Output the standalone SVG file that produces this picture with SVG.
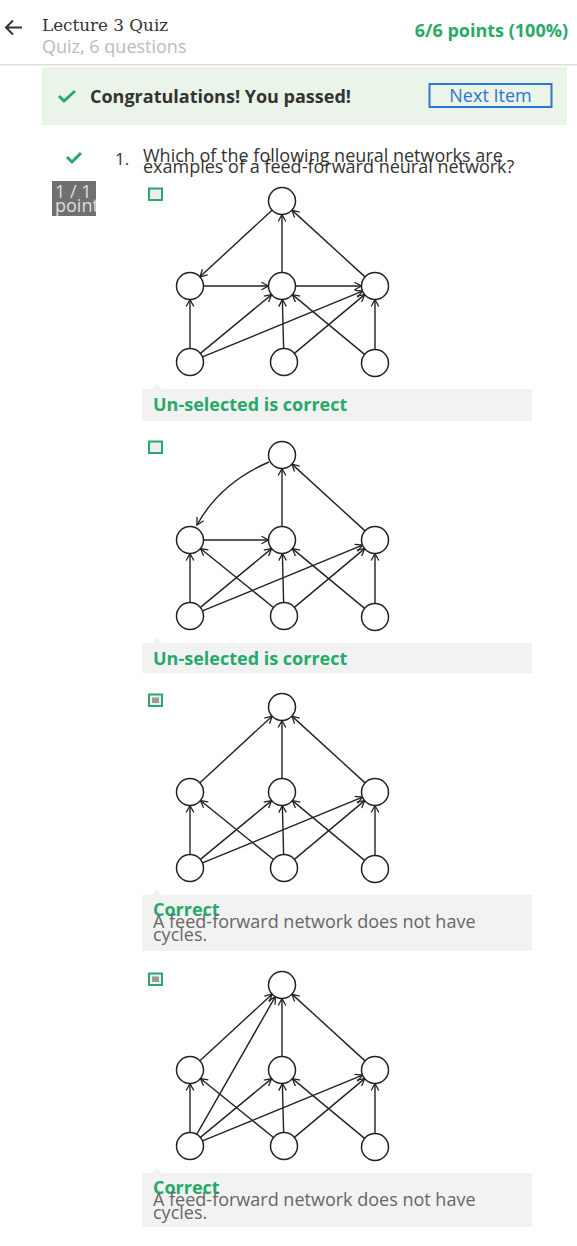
<svg xmlns="http://www.w3.org/2000/svg" width="577" height="1246" viewBox="0 0 577 1246">
<style>
.sans{font-family:"Open Sans","Liberation Sans",sans-serif}
.node{fill:#fff;stroke:#222;stroke-width:1.5}
.edge{fill:none;stroke:#222;stroke-width:1.4;marker-end:url(#arr)}
.fb{fill:#f2f2f2}
.ok{fill:#27a96b;font-weight:bold;font-size:18px}
.expl{fill:#666;font-size:18px}
.cb{fill:#eee;stroke:#27a96b;stroke-width:2}
.tick{fill:none;stroke:#27a96b;stroke-width:3}
</style>
<defs>
<marker id="arr" markerUnits="userSpaceOnUse" markerWidth="12" markerHeight="12" viewBox="-9 -6 12 12" refX="0" refY="0" orient="auto">
<path d="M-7,-3.8 L0,0 L-7,3.8" fill="none" stroke="#222" stroke-width="1.3"/>
</marker>
<clipPath id="ptclip"><rect x="52" y="181" width="44" height="35"/></clipPath>
</defs>
<rect width="577" height="1246" fill="#fff"/>

<g id="header">
<path d="M22,27.5 H6 M13,20.5 L6,27.5 L13,34.5" fill="none" stroke="#333" stroke-width="2"/>
<text x="42" y="31" font-family="'DejaVu Serif',serif" font-size="16.8" fill="#333">Lecture 3 Quiz</text>
<text x="42" y="53" class="sans" font-size="18" fill="#bbb">Quiz, 6 questions</text>
<text x="568" y="37" class="sans" font-size="18" font-weight="bold" fill="#27a96b" text-anchor="end">6/6 points (100%)</text>
<rect x="0" y="64" width="577" height="1.5" fill="#ddd"/>
</g>

<g id="banner">
<rect x="42" y="67" width="525" height="58" fill="#ebf4e8"/>
<path class="tick" d="M59,96 L64,101 L75,91"/>
<text x="90" y="103" class="sans" font-size="18" font-weight="bold" fill="#333">Congratulations! You passed!</text>
<rect x="429.5" y="84" width="122" height="23" fill="none" stroke="#2c75d0" stroke-width="2"/>
<text x="490.5" y="101.5" class="sans" font-size="18" fill="#2c75d0" text-anchor="middle">Next Item</text>
</g>

<g id="question">
<path class="tick" d="M67,157 L72,162 L81,153"/>
<text x="115" y="165" class="sans" font-size="17" fill="#333">1.</text>
<text x="143" y="161.5" class="sans" font-size="18" fill="#333">Which of the following neural networks are</text>
<text x="143" y="172.5" class="sans" font-size="18" fill="#333">examples of a feed-forward neural network?</text>
<rect x="52" y="181" width="44" height="35" fill="#707070"/>
<g clip-path="url(#ptclip)" class="sans" font-size="18" fill="#ddd">
<text x="55" y="198">1 / 1</text>
<text x="55" y="212">point</text>
</g>
</g>

<g id="option1">
<rect class="cb" x="149" y="188.5" width="13" height="11.5"/>
<g transform="translate(282,201)">
<g class="connectors">
<line class="edge" x1="-9.92" y1="9.16" x2="-82.08" y2="75.84"/>
<line class="edge" x1="0" y1="71.5" x2="0" y2="13.5"/>
<line class="edge" x1="83.03" y1="75.89" x2="9.97" y2="9.11"/>
<line class="edge" x1="-78.5" y1="85" x2="-13.5" y2="85"/>
<line class="edge" x1="13.5" y1="85" x2="79.5" y2="85"/>
<line class="edge" x1="-92" y1="147.5" x2="-92" y2="98.5"/>
<line class="edge" x1="-81.59" y1="152.4" x2="-10.41" y2="93.6"/>
<line class="edge" x1="-79.51" y1="155.87" x2="80.51" y2="90.13"/>
<line class="edge" x1="1.64" y1="147.5" x2="0.36" y2="98.5"/>
<line class="edge" x1="12.36" y1="152.35" x2="82.64" y2="93.65"/>
<line class="edge" x1="82.6" y1="153.39" x2="10.4" y2="93.61"/>
<line class="edge" x1="93" y1="148.5" x2="93" y2="98.5"/>
</g>
<g id="g1-nodes">
<circle class="node" cx="0" cy="0" r="13.5"/>
<circle class="node" cx="-92" cy="85" r="13.5"/>
<circle class="node" cx="0" cy="85" r="13.5"/>
<circle class="node" cx="93" cy="85" r="13.5"/>
<circle class="node" cx="-92" cy="161" r="13.5"/>
<circle class="node" cx="2" cy="161" r="13.5"/>
<circle class="node" cx="93" cy="162" r="13.5"/>
</g>
</g>
<path class="fb" d="M152,389 L157,383 L162,389 Z"/>
<rect class="fb" x="142" y="389" width="390" height="32"/>
<text x="153" y="411" class="sans ok">Un-selected is correct</text>
</g>

<g id="option2">
<rect class="cb" x="149" y="441.5" width="13" height="11.5"/>
<g transform="translate(282,455)">
<g class="connectors">
<path class="edge" d="M-13,7 Q-62,28 -85,70"/>
<line class="edge" x1="0" y1="71.5" x2="0" y2="13.5"/>
<line class="edge" x1="83.03" y1="75.89" x2="9.97" y2="9.11"/>
<line class="edge" x1="-78.5" y1="85" x2="-13.5" y2="85"/>
<line class="edge" x1="-92" y1="147.5" x2="-92" y2="98.5"/>
<line class="edge" x1="-81.59" y1="152.4" x2="-10.41" y2="93.6"/>
<line class="edge" x1="-79.51" y1="155.87" x2="80.51" y2="90.13"/>
<line class="edge" x1="-8.5" y1="152.51" x2="-81.5" y2="93.49"/>
<line class="edge" x1="1.64" y1="147.5" x2="0.36" y2="98.5"/>
<line class="edge" x1="12.36" y1="152.35" x2="82.64" y2="93.65"/>
<line class="edge" x1="82.6" y1="153.39" x2="10.4" y2="93.61"/>
<line class="edge" x1="93" y1="148.5" x2="93" y2="98.5"/>
</g>
<g id="g2-nodes">
<circle class="node" cx="0" cy="0" r="13.5"/>
<circle class="node" cx="-92" cy="85" r="13.5"/>
<circle class="node" cx="0" cy="85" r="13.5"/>
<circle class="node" cx="93" cy="85" r="13.5"/>
<circle class="node" cx="-92" cy="161" r="13.5"/>
<circle class="node" cx="2" cy="161" r="13.5"/>
<circle class="node" cx="93" cy="162" r="13.5"/>
</g>
</g>
<path class="fb" d="M152,643 L157,637 L162,643 Z"/>
<rect class="fb" x="142" y="643" width="390" height="30"/>
<text x="153" y="665" class="sans ok">Un-selected is correct</text>
</g>

<g id="option3">
<rect class="cb" x="149" y="694.5" width="13" height="11.5"/>
<rect x="152" y="697.5" width="7" height="5.5" fill="#999"/>
<g transform="translate(282,707)">
<g class="connectors">
<line class="edge" x1="-82.08" y1="75.84" x2="-9.92" y2="9.16"/>
<line class="edge" x1="0" y1="71.5" x2="0" y2="13.5"/>
<line class="edge" x1="83.03" y1="75.89" x2="9.97" y2="9.11"/>
<line class="edge" x1="-92" y1="147.5" x2="-92" y2="98.5"/>
<line class="edge" x1="-81.59" y1="152.4" x2="-10.41" y2="93.6"/>
<line class="edge" x1="-79.51" y1="155.87" x2="80.51" y2="90.13"/>
<line class="edge" x1="-8.5" y1="152.51" x2="-81.5" y2="93.49"/>
<line class="edge" x1="1.64" y1="147.5" x2="0.36" y2="98.5"/>
<line class="edge" x1="12.36" y1="152.35" x2="82.64" y2="93.65"/>
<line class="edge" x1="82.6" y1="153.39" x2="10.4" y2="93.61"/>
<line class="edge" x1="93" y1="148.5" x2="93" y2="98.5"/>
</g>
<g id="g3-nodes">
<circle class="node" cx="0" cy="0" r="13.5"/>
<circle class="node" cx="-92" cy="85" r="13.5"/>
<circle class="node" cx="0" cy="85" r="13.5"/>
<circle class="node" cx="93" cy="85" r="13.5"/>
<circle class="node" cx="-92" cy="161" r="13.5"/>
<circle class="node" cx="2" cy="161" r="13.5"/>
<circle class="node" cx="93" cy="162" r="13.5"/>
</g>
</g>
<path class="fb" d="M152,895 L157,889 L162,895 Z"/>
<rect class="fb" x="142" y="895" width="390" height="56"/>
<text x="153" y="916" class="sans ok">Correct</text>
<text x="153" y="927.5" class="sans expl">A feed-forward network does not have</text>
<text x="153" y="940.5" class="sans expl">cycles.</text>
</g>

<g id="option4">
<rect class="cb" x="149" y="973.5" width="13" height="11.5"/>
<rect x="152" y="976.5" width="7" height="5.5" fill="#999"/>
<g transform="translate(282,985)">
<g class="connectors">
<line class="edge" x1="-82.08" y1="75.84" x2="-9.92" y2="9.16"/>
<line class="edge" x1="-85.3" y1="149.28" x2="-6.7" y2="11.72"/>
<line class="edge" x1="0" y1="71.5" x2="0" y2="13.5"/>
<line class="edge" x1="83.03" y1="75.89" x2="9.97" y2="9.11"/>
<line class="edge" x1="-92" y1="147.5" x2="-92" y2="98.5"/>
<line class="edge" x1="-81.59" y1="152.4" x2="-10.41" y2="93.6"/>
<line class="edge" x1="-79.51" y1="155.87" x2="80.51" y2="90.13"/>
<line class="edge" x1="-8.5" y1="152.51" x2="-81.5" y2="93.49"/>
<line class="edge" x1="1.64" y1="147.5" x2="0.36" y2="98.5"/>
<line class="edge" x1="12.36" y1="152.35" x2="82.64" y2="93.65"/>
<line class="edge" x1="82.6" y1="153.39" x2="10.4" y2="93.61"/>
<line class="edge" x1="93" y1="148.5" x2="93" y2="98.5"/>
</g>
<g id="g4-nodes">
<circle class="node" cx="0" cy="0" r="13.5"/>
<circle class="node" cx="-92" cy="85" r="13.5"/>
<circle class="node" cx="0" cy="85" r="13.5"/>
<circle class="node" cx="93" cy="85" r="13.5"/>
<circle class="node" cx="-92" cy="161" r="13.5"/>
<circle class="node" cx="2" cy="161" r="13.5"/>
<circle class="node" cx="93" cy="162" r="13.5"/>
</g>
</g>
<path class="fb" d="M152,1173 L157,1167 L162,1173 Z"/>
<rect class="fb" x="142" y="1173" width="390" height="54"/>
<text x="153" y="1194" class="sans ok">Correct</text>
<text x="153" y="1205.5" class="sans expl">A feed-forward network does not have</text>
<text x="153" y="1218.5" class="sans expl">cycles.</text>
</g>
</svg>
